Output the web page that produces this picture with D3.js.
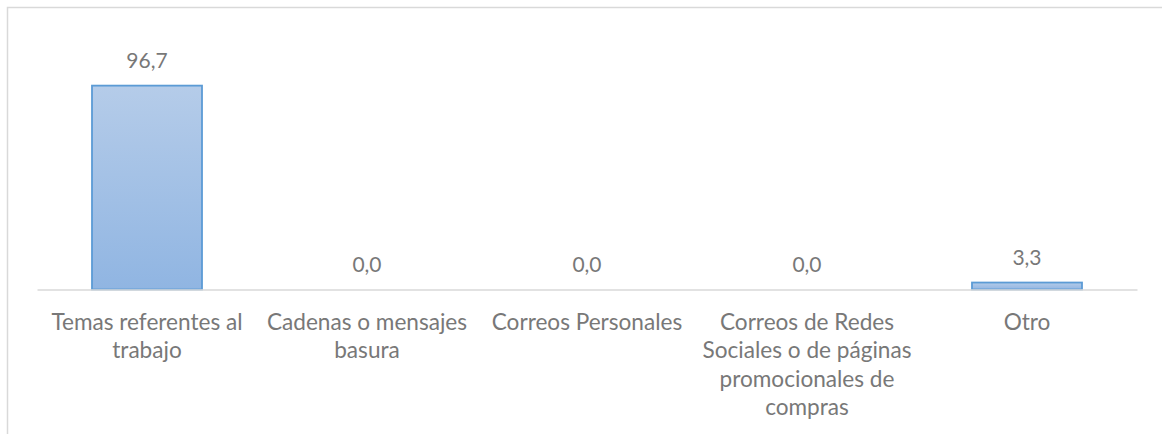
<!DOCTYPE html>
<html>
<head>
<meta charset="utf-8">
<script src="https://cdn.jsdelivr.net/npm/d3@7"></script>
<style>
  html, body { margin: 0; padding: 0; background: #fff; }
  svg { display: block; }
  text { font-family: Lato, "Open Sans", sans-serif; fill: #787878; }
</style>
</head>
<body>
<svg id="chart" width="1162" height="434"></svg>
<script>
// Chart data
const categories = [
  "Temas referentes al trabajo",
  "Cadenas o mensajes basura",
  "Correos Personales",
  "Correos de Redes Sociales o de páginas promocionales de compras",
  "Otro"
];
const values = [96.7, 0.0, 0.0, 0.0, 3.3];
const yDomain = [0, 120];

const svg = d3.select("#chart");
const W = 1162, H = 434;

// Outer frame (left and top edges visible)
svg.append("path")
  .attr("d", `M7.5,${H} L7.5,7.5 L${W},7.5`)
  .attr("fill", "none")
  .attr("stroke", "#d9d9d9")
  .attr("stroke-width", 1.5);

const plot = { left: 37, right: 1137, top: 36.5, bottom: 289.5 };

const x = d3.scaleBand()
  .domain(categories)
  .range([plot.left, plot.right])
  .paddingInner(0.5)
  .paddingOuter(0.25);

const y = d3.scaleLinear()
  .domain(yDomain)
  .range([plot.bottom, plot.top]);

// Vertical gradient for the bars
const defs = svg.append("defs");
const grad = defs.append("linearGradient")
  .attr("id", "barFill")
  .attr("x1", 0).attr("y1", 0).attr("x2", 0).attr("y2", 1);
grad.append("stop").attr("offset", "0%").attr("stop-color", "#b5cce9");
grad.append("stop").attr("offset", "100%").attr("stop-color", "#90b5e2");

// Bars (only non-zero values have visible height)
svg.append("g").selectAll("rect")
  .data(values.map((v, i) => ({ v, c: categories[i] })).filter(d => d.v > 0))
  .join("rect")
  .attr("x", d => x(d.c))
  .attr("width", x.bandwidth())
  .attr("y", d => y(d.v))
  .attr("height", d => y(0) - y(d.v))
  .attr("fill", "url(#barFill)")
  .attr("stroke", "#5b9bd5")
  .attr("stroke-width", 1.8);

// Category axis line
const axis = svg.append("g")
  .attr("transform", `translate(0,${y(0)})`)
  .call(d3.axisBottom(x).tickSize(0).tickFormat(""));
axis.select(".domain")
  .attr("stroke", "#d9d9d9")
  .attr("stroke-width", 1.6);

// Value labels
const fmt = v => d3.format(".1f")(v).replace(".", ",");
svg.append("g").selectAll("text")
  .data(values.map((v, i) => ({ v, c: categories[i] })))
  .join("text")
  .attr("x", d => x(d.c) + x.bandwidth() / 2)
  .attr("y", d => y(d.v) - 18)
  .attr("text-anchor", "middle")
  .style("font-size", "21px")
  .text(d => fmt(d.v));

// Category labels, wrapped to the category width
const catWidth = x.step() - 6;
const lineH = 28.3;
const labels = svg.append("g").selectAll("text")
  .data(categories)
  .join("text")
  .attr("text-anchor", "middle")
  .style("font-size", "22.6px")
  .attr("x", d => x(d) + x.bandwidth() / 2)
  .attr("y", 330);

labels.each(function(d) {
  const t = d3.select(this);
  const cx = +t.attr("x");
  const words = d.split(" ");
  let line = [];
  let tspan = t.append("tspan").attr("x", cx).attr("dy", 0);
  words.forEach(w => {
    line.push(w);
    tspan.text(line.join(" "));
    if (tspan.node().getComputedTextLength() > catWidth && line.length > 1) {
      line.pop();
      tspan.text(line.join(" "));
      line = [w];
      tspan = t.append("tspan").attr("x", cx).attr("dy", lineH).text(w);
    }
  });
});
</script>
</body>
</html>
